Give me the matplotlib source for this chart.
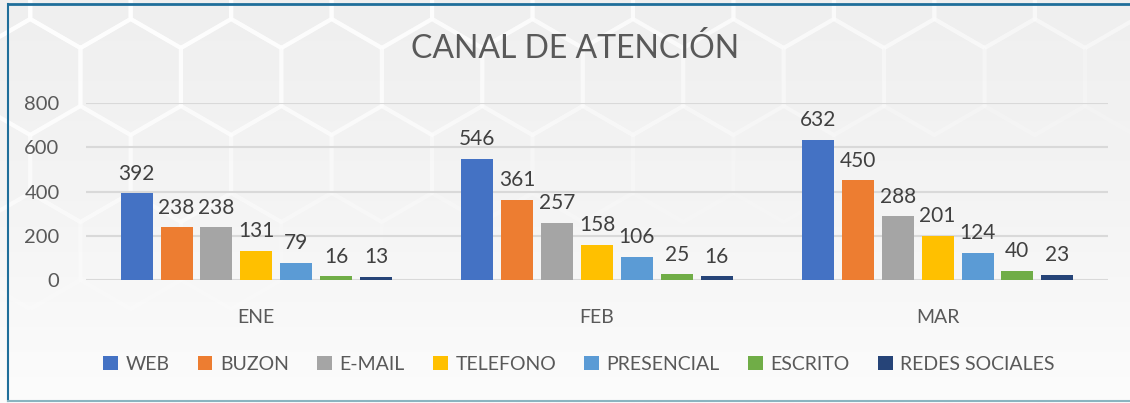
import numpy as np
import matplotlib.pyplot as plt
from matplotlib.patches import RegularPolygon
from matplotlib.colors import LinearSegmentedColormap

months = ['ENE', 'FEB', 'MAR']
channels = ['WEB', 'BUZON', 'E-MAIL', 'TELEFONO', 'PRESENCIAL', 'ESCRITO', 'REDES SOCIALES']
web = [392, 546, 632]
buzon = [238, 361, 450]
email = [238, 257, 288]
telefono = [131, 158, 201]
presencial = [79, 106, 124]
escrito = [16, 25, 40]
redes = [13, 16, 23]
colors = ['#4472c4', '#ed7d31', '#a5a5a5', '#ffc000', '#5b9bd5', '#70ad47', '#264478']

series = [web, buzon, email, telefono, presencial, escrito, redes]
text_c = '#595959'
plt.rcParams['font.family'] = ['Lato', 'DejaVu Sans']

fig = plt.figure(figsize=(11.3, 4.03), dpi=100)
W, H = 1130, 403

# background: soft gray fading to white, with faint white hexagons
bg = fig.add_axes([0, 0, 1, 1], zorder=-10)
bg.set_xlim(0, W)
bg.set_ylim(H, 0)
bg.axis('off')
grad = np.linspace(0, 1, 256)[:, None]
cmap = LinearSegmentedColormap.from_list('g', ['#efefef', '#f4f4f4', '#fcfcfc'])
bg.imshow(grad, cmap=cmap, extent=[0, W, H, 0], aspect='auto')
r = 58
dx = r * np.sqrt(3)
for row in range(-1, 6):
    for col in range(-1, 13):
        cx = col * dx + (dx / 2 if row % 2 else 0) - 20
        cy = row * r * 1.5 - 10
        a = min(0.85, max(0.0, 0.85 - cy / 420 - cx / 2200))
        bg.add_patch(RegularPolygon((cx, cy), 6, radius=r, orientation=0,
                                    facecolor='none', edgecolor='white', lw=3, alpha=a))
# frame
bg.plot([8, W], [4, 4], color='#1f6e9a', lw=2)
bg.plot([8, 8], [4, 401], color='#1f6e9a', lw=1.5)
bg.plot([8, W], [401, 401], color='#8ab4c0', lw=1.5)

ax = fig.add_axes([86 / W, 1 - 280 / H, 1022 / W, 177 / H])
ax.patch.set_alpha(0)
x = np.arange(len(months))
step = 0.117
bw = 0.094
for i, (name, vals, c) in enumerate(zip(channels, series, colors)):
    pos = x + (i - 3) * step
    ax.bar(pos, vals, width=bw, color=c, label=name, zorder=3)
    for p, v in zip(pos, vals):
        ax.annotate(str(v), (p, v), xytext=(0, 7), textcoords='offset points',
                    ha='center', va='bottom', fontsize=15, color='#404040')

ax.set_xlim(-0.5, 2.5)
ax.set_ylim(0, 800)
ax.set_yticks(range(0, 801, 200))
ax.set_xticks(x)
ax.set_xticklabels(months)
ax.grid(axis='y', color='#d9d9d9', lw=1.5, zorder=0)
for s in ax.spines.values():
    s.set_visible(False)
ax.tick_params(axis='both', length=0, colors=text_c, labelsize=14.5)
ax.tick_params(axis='x', pad=21, labelsize=14)
ax.tick_params(axis='y', pad=19)

fig.text(575 / W, 1 - 48 / H, 'CANAL DE ATENCIÓN', ha='center', va='center',
         fontsize=23, color=text_c)

fig.legend(loc='center', bbox_to_anchor=(579 / W, 1 - 364 / H), ncol=7,
           frameon=False, fontsize=14, handlelength=0.75, handleheight=0.75,
           handletextpad=0.4, columnspacing=1.45, labelcolor=text_c)

fig.savefig('out.png', dpi=100)
